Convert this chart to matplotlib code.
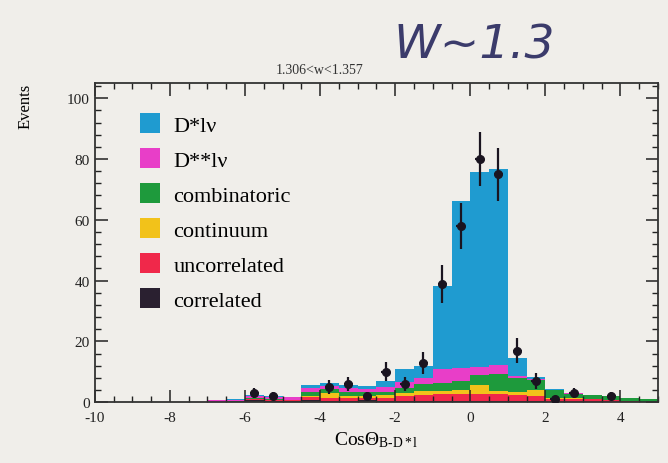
import numpy as np
import matplotlib
matplotlib.use("Agg")
import matplotlib.pyplot as plt
from matplotlib.patches import Patch
from matplotlib.ticker import MultipleLocator

# ---------------- data ----------------
x_lo, x_hi, bin_w = -10.0, 5.0, 0.5
categories = ["D*lν", "D**lν", "combinatoric", "continuum", "uncorrelated", "correlated"]
colors = ["#1f9bd0", "#e83ec8", "#1e9a3c", "#f2c21a", "#f0284a", "#2a2030"]

correlated = [0, 0, 0, 0, 0, 0, 0, 0, 0.6, 0.5, 0.3, 0.8, 0.5, 0.5, 0.6, 0.5,
              0.5, 0.5, 0.4, 0.4, 0.4, 0.4, 0.3, 0.3, 0.2, 0.2, 0.1, 0, 0, 0]
uncorrelated = [0, 0, 0, 0, 0, 0, 0.1, 0.1, 0.3, 0.3, 0.3, 0.8, 1.0, 0.8, 0.8, 1.0,
                1.5, 2.0, 2.2, 2.2, 2.2, 2.2, 2.2, 1.8, 1.0, 0.9, 0.8, 0.6, 0.3, 0.2]
continuum = [0, 0, 0, 0, 0, 0, 0, 0, 0, 0, 0, 0.6, 1.5, 0.8, 0.6, 0.8,
             1.0, 1.2, 1.2, 1.5, 3.0, 1.2, 1.0, 1.8, 0.3, 0.2, 0.2, 0.1, 0, 0]
combinatoric = [0, 0, 0, 0, 0, 0, 0.1, 0.2, 0.4, 0.4, 0.2, 1.2, 1.3, 1.3, 1.2, 1.2,
                1.8, 2.2, 2.5, 3.0, 3.5, 5.5, 4.5, 3.5, 2.5, 1.5, 1.2, 1.2, 1.2, 0.8]
dstarstar_lnu = [0, 0, 0, 0, 0.1, 0.2, 0.4, 0.5, 0.8, 0.6, 0.8, 1.2, 1.0, 1.2, 1.0, 1.5,
                 2.0, 2.0, 4.5, 4.0, 2.5, 3.0, 0.5, 0.3, 0.1, 0.1, 0.1, 0, 0, 0]
dstar_lnu = [0, 0, 0, 0, 0, 0, 0, 0.1, 0.2, 0.1, 0.1, 1.0, 1.0, 1.0, 1.0, 2.0,
             4.0, 4.0, 27.5, 55.0, 64.0, 64.5, 6.0, 0.6, 0.2, 0.1, 0, 0, 0, 0]
data_counts = [0, 0, 0, 0, 0, 0, 0, 0, 3, 2, 0, 0, 5, 6, 2, 10,
               6, 13, 39, 58, 80, 75, 17, 7, 1, 3, 0, 2, 0, 0]

x_ticks = [-10, -8, -6, -4, -2, 0, 2, 4]
y_ticks = [0, 20, 40, 60, 80, 100]

# ---------------- plot ----------------
paper = "#f0eeea"
plt.rcParams["font.family"] = ["Liberation Serif", "DejaVu Serif"]
plt.rcParams["mathtext.fontset"] = "custom"
plt.rcParams["mathtext.rm"] = "Liberation Serif"
plt.rcParams["mathtext.it"] = "Liberation Serif:italic"
plt.rcParams["axes.unicode_minus"] = False

fig = plt.figure(figsize=(6.68, 4.64), dpi=100, facecolor=paper)
ax = fig.add_axes([0.142, 0.131, 0.843, 0.688], facecolor=paper)

edges = np.arange(x_lo, x_hi + bin_w / 2, bin_w)
lefts = edges[:-1]
centers = lefts + bin_w / 2

stack_bottom_up = [correlated, uncorrelated, continuum, combinatoric, dstarstar_lnu, dstar_lnu]
stack_colors = colors[::-1]
bottom = np.zeros(len(lefts))
for vals, col in zip(stack_bottom_up, stack_colors):
    v = np.array(vals, dtype=float)
    ax.bar(lefts, v, width=bin_w, bottom=bottom, align="edge", color=col,
           edgecolor="none", linewidth=0)
    bottom += v

d = np.array(data_counts, dtype=float)
m = d > 0
ax.errorbar(centers[m], d[m], yerr=np.sqrt(d[m]), xerr=0.12, fmt="o", color="#1a1420",
            ms=5.5, elinewidth=1.6, capsize=0, zorder=5)

ax.set_xlim(x_lo, x_hi)
ax.set_ylim(0, 105)
ax.set_xticks(x_ticks)
ax.set_yticks(y_ticks)
ax.xaxis.set_minor_locator(MultipleLocator(0.5))
ax.yaxis.set_minor_locator(MultipleLocator(4))
ax.tick_params(which="both", direction="in", top=True, right=True, labelsize=11,
               colors="#222222")
ax.tick_params(axis="x", which="major", pad=6)
ax.tick_params(which="major", length=9, width=1.1)
ax.tick_params(which="minor", length=4.5, width=1.0)
for s in ax.spines.values():
    s.set_linewidth(1.3)
    s.set_color("#333333")

ax.set_xlabel("CosΘ$_{\\mathrm{B\\text{-}D*l}}$", fontsize=14, labelpad=4)
ax.set_ylabel("Events", fontsize=12, loc="top", labelpad=24)

handles = [Patch(facecolor=c, edgecolor="none") for c in colors]
leg = ax.legend(handles, categories, loc="upper left", bbox_to_anchor=(0.045, 0.968),
                frameon=False, fontsize=16, handlelength=0.9, handleheight=1.0,
                handletextpad=0.6, labelspacing=0.56)

fig.text(0.478, 0.848, "1.306<w<1.357", fontsize=10, ha="center", va="center",
         color="#333333")
fig.text(0.71, 0.9, "W~1.3", fontsize=34, ha="center", va="center",
         color="#3b3b6b", family="DejaVu Sans", style="italic")

fig.savefig("out.png", dpi=100, facecolor=paper)
